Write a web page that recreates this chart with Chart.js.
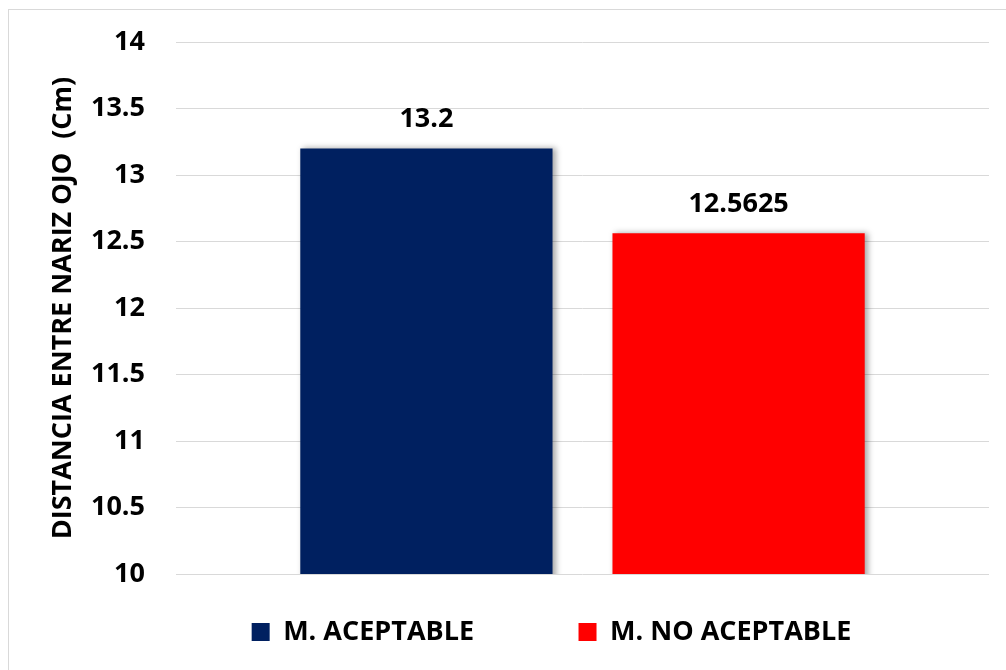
<!DOCTYPE html>
<html>
<head>
<meta charset="utf-8">
<script src="https://cdn.jsdelivr.net/npm/chart.js@4.4.1/dist/chart.umd.min.js"></script>
<style>
  html, body { margin: 0; padding: 0; background: #fff; overflow: hidden; }
  #wrap { position: relative; width: 1006px; height: 670px; }
  #frame {
    position: absolute; left: 8px; top: 9px; width: 1100px; height: 800px;
    border: 1px solid #d9d9d9; pointer-events: none;
  }
</style>
</head>
<body>
<div id="wrap">
  <canvas id="chart" width="1006" height="670"></canvas>
  <div id="frame"></div>
</div>
<script>
const categories = ["Distancia"];
const seriesNames = ["M. ACEPTABLE", "M. NO ACEPTABLE"];
const seriesValues = [13.2, 12.5625];
const seriesColors = ["#002060", "#ff0000"];
const yTicks = [10, 10.5, 11, 11.5, 12, 12.5, 13, 13.5, 14];
const yTitle = "DISTANCIA ENTRE NARIZ OJO  (Cm)";

Chart.defaults.font.family = "'Open Sans', sans-serif";
Chart.defaults.font.size = 27;
Chart.defaults.font.weight = "bold";
Chart.defaults.color = "#000";

// soft shadow to the right of each bar
const barShadow = {
  id: "barShadow",
  beforeDatasetsDraw(chart) {
    const ctx = chart.ctx;
    ctx.save();
    ctx.shadowColor = "rgba(0, 0, 0, 0.35)";
    ctx.shadowBlur = 6;
    ctx.shadowOffsetX = 3;
    ctx.shadowOffsetY = 0;
  },
  afterDatasetsDraw(chart) {
    chart.ctx.restore();
  },
};

// value printed above each bar
const valueLabels = {
  id: "valueLabels",
  afterDatasetsDraw(chart) {
    const ctx = chart.ctx;
    ctx.save();
    ctx.font = "bold 27px 'Open Sans', sans-serif";
    ctx.fillStyle = "#000";
    ctx.textAlign = "center";
    ctx.textBaseline = "middle";
    chart.data.datasets.forEach((ds, i) => {
      chart.getDatasetMeta(i).data.forEach((bar, j) => {
        ctx.fillText(String(ds.data[j]), bar.x, bar.y - 29);
      });
    });
    ctx.restore();
  },
};

// nudge the legend a little to the right
const legendShift = {
  id: "legendShift",
  afterLayout(chart) {
    chart.legend.left += 57;
    chart.legend.right += 57;
  },
};

new Chart(document.getElementById("chart"), {
  type: "bar",
  data: {
    labels: categories,
    datasets: seriesNames.map((name, i) => ({
      label: name,
      data: [seriesValues[i]],
      backgroundColor: seriesColors[i],
      borderWidth: 0,
      categoryPercentage: 0.768,
      barPercentage: 0.808,
    })),
  },
  options: {
    responsive: false,
    animation: false,
    layout: { padding: { top: 42, right: 17, bottom: 14.5, left: 0 } },
    plugins: {
      tooltip: { enabled: false },
      legend: {
        position: "bottom",
        labels: {
          boxWidth: 18,
          boxHeight: 18,
          padding: 10,
          font: { size: 27, weight: "bold" },
          generateLabels(chart) {
            const items = Chart.defaults.plugins.legend.labels.generateLabels(chart);
            items[0].text += "\u2003\u2003\u2003\u2002";
            return items;
          },
        },
      },
    },
    scales: {
      x: {
        grid: { display: false },
        border: { display: false },
        ticks: { display: false },
        afterFit(scale) {
          scale.height = 34.5;
        },
      },
      y: {
        min: yTicks[0],
        max: yTicks[yTicks.length - 1],
        afterBuildTicks(axis) {
          axis.ticks = yTicks.map((v) => ({ value: v }));
        },
        afterFit(scale) {
          scale.width = 176;
          scale.paddingTop = 16;
          scale.paddingBottom = 16;
        },
        grid: { color: "#d9d9d9", lineWidth: 1, drawTicks: false },
        border: { display: false },
        ticks: {
          padding: 31,
          font: { size: 27, weight: "bold" },
          callback: (value) => String(value),
        },
        title: {
          display: true,
          text: yTitle,
          font: { size: 27, weight: "bold" },
          padding: { top: 47, bottom: 0 },
        },
      },
    },
  },
  plugins: [barShadow, valueLabels, legendShift],
});
</script>
</body>
</html>
